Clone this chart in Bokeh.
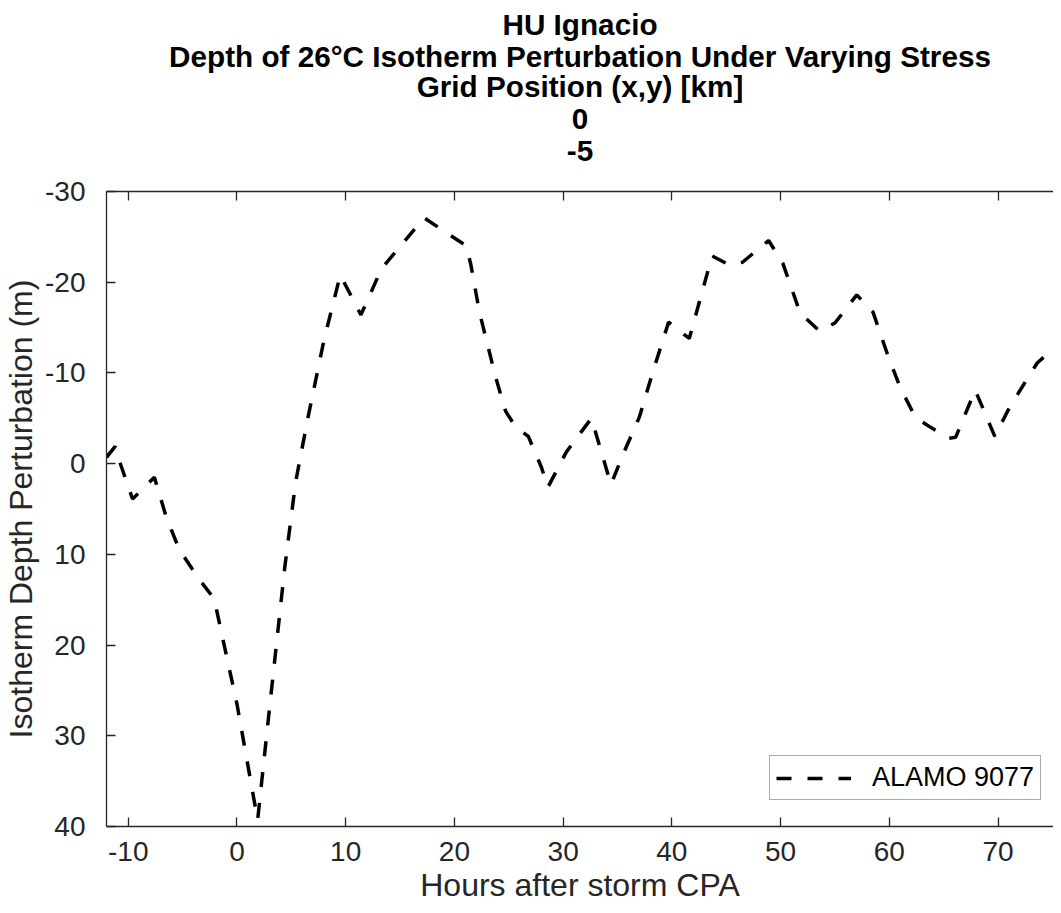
from bokeh.plotting import figure
from bokeh.models import (Range1d, LinearAxis, Title, Legend, LegendItem, FixedTicker,
                          CustomJSTickFormatter)
from bokeh.embed import file_html
from bokeh.resources import INLINE

# ---- data ----
hours = [-12, -11.2, -10.7, -9.6, -7.6, -6.5, -5.3, -3.5, -2.1, 0, 1.9, 2.9, 4.4, 5.4,
         6.5, 8.0, 9.5, 11.4, 13.3, 17.2, 21.1, 21.5, 22.3, 23.8, 24.7, 25.6, 26.8,
         28.0, 28.6, 30.3, 32.6, 34.4, 35.5, 37.0, 38.3, 39.7, 41.6, 43.7, 45.3, 46.5,
         48.9, 50.2, 51.8, 53.6, 55.0, 57.0, 58.5, 59.9, 61.0, 62.4, 63.8, 65.5, 66.1,
         67.9, 69.7, 71.1, 73.6, 75.5]
depth = [-0.7, -1.9, 0.1, 3.9, 1.5, 5.9, 9.5, 12.7, 14.9, 26.5, 39.3, 28.0, 11.4, 2.0,
         -4.9, -13.6, -20.8, -16.4, -21.5, -27.1, -24.0, -22.0, -16.7, -9.5, -5.8, -4.1,
         -3.0, 0.4, 2.6, -1.3, -5.0, 2.3, -1.0, -5.1, -10.3, -15.6, -13.8, -22.9, -21.9,
         -22.2, -24.6, -22.1, -16.6, -14.6, -15.5, -18.6, -16.7, -11.8, -8.4, -5.1, -4.0,
         -2.8, -2.9, -8.1, -3.0, -6.3, -11.1, -13.1]
series_label = "ALAMO 9077"
x_ticks = [-10, 0, 10, 20, 30, 40, 50, 60, 70]
y_ticks = [-30, -20, -10, 0, 10, 20, 30, 40]
title_lines = ["HU Ignacio",
               "Depth of 26\u00b0C Isotherm Perturbation Under Varying Stress",
               "Grid Position (x,y) [km]",
               "0",
               "-5"]
x_label = "Hours after storm CPA"
y_label = "Isotherm Depth Perturbation (m)"

FONT = "Liberation Sans"
AX = "#262626"

p = figure(width=1053, height=905, output_backend="svg", toolbar_location=None,
           x_range=Range1d(-12, 75.1), y_range=Range1d(40, -30),
           min_border_left=103, min_border_right=0, min_border_top=191,
           min_border_bottom=76, background_fill_color="white",
           border_fill_color="white")
p.outline_line_color = None
p.xgrid.visible = False
p.ygrid.visible = False

r = p.line(hours, depth, line_color="black", line_width=3.5, line_dash="15 16")

hyphen_fmt = CustomJSTickFormatter(code="return tick.toString();")
blank_fmt = CustomJSTickFormatter(code="return '';")

def style_axis(ax, ticks):
    ax.ticker = FixedTicker(ticks=ticks)
    ax.major_tick_in = 9
    ax.major_tick_out = 0
    ax.minor_tick_in = 0
    ax.minor_tick_out = 0
    ax.axis_line_color = AX
    ax.axis_line_width = 1.3
    ax.major_tick_line_color = AX
    ax.major_tick_line_width = 1.3
    ax.major_label_text_color = AX
    ax.major_label_text_font = FONT
    ax.major_label_text_font_size = "28px"

style_axis(p.xaxis[0], x_ticks)
style_axis(p.yaxis[0], y_ticks)
p.xaxis[0].formatter = hyphen_fmt
p.yaxis[0].formatter = hyphen_fmt
p.xaxis[0].major_label_standoff = 15
p.yaxis[0].major_label_standoff = 21
for ax, lab in ((p.xaxis[0], x_label), (p.yaxis[0], y_label)):
    ax.axis_label = lab
    ax.axis_label_text_font = FONT
    ax.axis_label_text_font_size = "32px"
    ax.axis_label_text_font_style = "normal"
    ax.axis_label_text_color = AX
    ax.axis_label_standoff = 3

# top frame edge with inward ticks
top_ax = LinearAxis()
style_axis(top_ax, x_ticks)
top_ax.formatter = blank_fmt
top_ax.major_label_standoff = 0
p.add_layout(top_ax, "above")

# invisible spacer between the top edge and the title block
spacer = LinearAxis(ticker=FixedTicker(ticks=x_ticks), formatter=blank_fmt,
                    major_tick_in=0, major_tick_out=30, minor_tick_in=0,
                    minor_tick_out=0, major_tick_line_color=None,
                    axis_line_color=None, major_label_standoff=0)
p.add_layout(spacer, "above")

# title lines stacked upward from the plot; standoff evens out the line spacing
standoffs = [-7, 1, -11, 19, 1]
for t, s in reversed(list(zip(title_lines, standoffs))):
    p.add_layout(Title(text=t, align="center", text_font=FONT, text_font_size="29.7px",
                       text_font_style="bold", text_color="black",
                       standoff=s, offset=0), "above")

legend = Legend(items=[LegendItem(label=series_label, renderers=[r])],
                location=(663, 26), glyph_width=75, glyph_height=30,
                label_standoff=21, padding=6, margin=0, spacing=0,
                border_line_color="#555555", border_line_width=1.2,
                label_text_font=FONT, label_text_font_size="27px",
                label_text_color="black", label_height=30,
                background_fill_color="white", background_fill_alpha=1)
p.add_layout(legend)

open("out.html", "w").write(file_html(p, INLINE))
